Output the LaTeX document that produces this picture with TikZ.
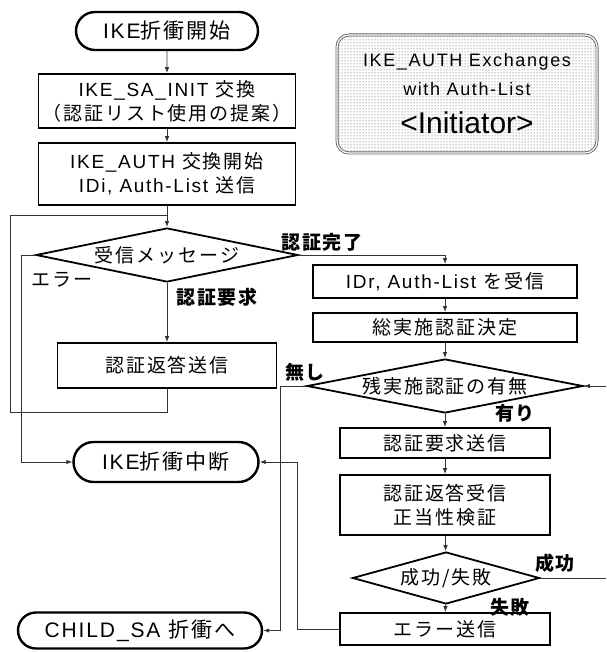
\documentclass[tikz,border=0pt]{standalone}
\usepackage{fontspec}
\setmainfont{Liberation Sans}[LetterSpace=9]
\newfontfamily\jp{Noto Sans CJK JP}[LetterSpace=10]
\newfontfamily\plainlat{Liberation Sans}
\usetikzlibrary{shapes.geometric,shapes.misc,patterns,arrows.meta}
\begin{document}
\begin{tikzpicture}[x=1pt,y=-1pt,
  txt/.style={font=\fontsize{19}{22}\selectfont},
  box/.style={draw, line width=1.8pt, inner sep=0pt, align=center, txt},
  term/.style={draw, rounded rectangle, line width=2.4pt, inner sep=0pt, font=\fontsize{21}{24}\selectfont},
  dec/.style={draw, diamond, line width=1.8pt, inner sep=0pt, txt},
  conn/.style={draw=black!80, line width=0.9pt},
  arr/.style={conn, -{Latex[length=6pt,width=4.5pt]}},
  lab/.style={inner sep=0pt, font=\jp\bfseries\fontsize{19}{22}\selectfont},
  plab/.style={inner sep=0pt, font=\jp\fontsize{19}{22}\selectfont},
  itxt/.style={inner sep=0pt, font=\fontsize{18}{20}\selectfont}
]
\useasboundingbox (0,0) rectangle (606,652);
% left column
\node[term, minimum width=182pt, minimum height=38pt] (start) at (167,31) {IKE{\jp 折衝開始}};
\node[box, minimum width=257pt, minimum height=54pt] (b1) at (167,101) {IKE\_SA\_INIT {\jp 交換}\\[2pt]{\jp （認証リスト使用の提案）}};
\node[box, minimum width=257pt, minimum height=62pt] (b2) at (167,174) {IKE\_AUTH {\jp 交換開始}\\[2pt]IDi, Auth-List {\jp 送信}};
\node[dec, minimum width=262pt, minimum height=54pt, aspect=4.85] (d1) at (167,255) {\jp 受信メッセージ};
\node[box, minimum width=219pt, minimum height=45pt] (resp) at (167,365.5) {\jp 認証返答送信};
\node[term, minimum width=185pt, minimum height=40pt] (abort) at (166,462) {IKE{\jp 折衝中断}};
\node[term, minimum width=244pt, minimum height=36pt] (child) at (140,630.5) {CHILD\_SA {\jp 折衝へ}};
% info box
\node[draw=black!60, double=white, double distance=1.2pt, line width=0.9pt, rounded corners=12pt,
      pattern=dots, pattern color=black!75, minimum width=260pt, minimum height=118pt,
      inner sep=0pt] (info) at (467,94) {};
\node[itxt] (i1) at (467,62) {IKE\_AUTH Exchanges};
\node[itxt] (i2) at (467,89) {with Auth-List};
\node[inner sep=0pt, font=\plainlat\fontsize{30}{32}\selectfont] (i3) at (467,123) {<Initiator>};
% right column
\node[box, minimum width=264pt, minimum height=33pt] (idr) at (445,281.5) {IDr, Auth-List {\jp を受信}};
\node[box, minimum width=264pt, minimum height=29pt] (tot) at (445,327.5) {\jp 総実施認証決定};
\node[dec, minimum width=276pt, minimum height=54pt, aspect=5.1] (d2) at (445,386) {\jp 残実施認証の有無};
\node[box, minimum width=210pt, minimum height=30pt] (req) at (445,443) {\jp 認証要求送信};
\node[box, minimum width=210pt, minimum height=60pt] (rcv) at (445,505) {\jp 認証返答受信\\[2pt]\jp 正当性検証};
\node[dec, minimum width=187pt, minimum height=52pt, aspect=3.6] (d3) at (446,578) {\jp 成功/失敗};
\node[box, minimum width=210pt, minimum height=32pt] (err) at (445,629) {\jp エラー送信};
% helper coordinates
\coordinate (lpA) at (10,412);
\coordinate (lpB) at (10,215);
\coordinate (eX) at (21,0);
\coordinate (nX) at (280,0);
\coordinate (xX) at (297,0);
\coordinate (r1) at (606,578);
\coordinate (r2) at (606,386);
% connectors
\draw[arr] (start) -- (b1);
\draw[arr] (b1) -- (b2);
\draw[arr] (b2) -- (d1);
\draw[arr] (d1) -- (resp);
\draw[conn] (resp.south) |- (lpA) -- (lpB) -- (lpB -| d1.north);
\draw[arr] (d1.west) -- (d1.west -| eX) |- (abort.west);
\draw[arr] (d1.east) -| (idr.north);
\draw[arr] (idr) -- (tot);
\draw[arr] (tot) -- (d2);
\draw[arr] (d2) -- (req);
\draw[arr] (req) -- (rcv);
\draw[arr] (rcv) -- (d3);
\draw[arr] (d3) -- (err);
\draw[arr] (d2.west) -- (d2.west -| nX) |- (child.east);
\draw[arr] (err.west) -- (err.west -| xX) |- (abort.east);
\draw[conn] (d3.east) -- (r1);
\draw[arr] (r2) -- (d2.east);
% labels
\node[plab] (lE) at (62,280) {エラー};
\node[lab] (lReq) at (217,297) {認証要求};
\node[lab] (lDone) at (322,242) {認証完了};
\node[lab] (lNo) at (305,372) {無し};
\node[lab] (lYes) at (515,413) {有り};
\node[lab] (lOk) at (555,563) {成功};
\node[lab] (lNg) at (510,607) {失敗};
\end{tikzpicture}
\end{document}
